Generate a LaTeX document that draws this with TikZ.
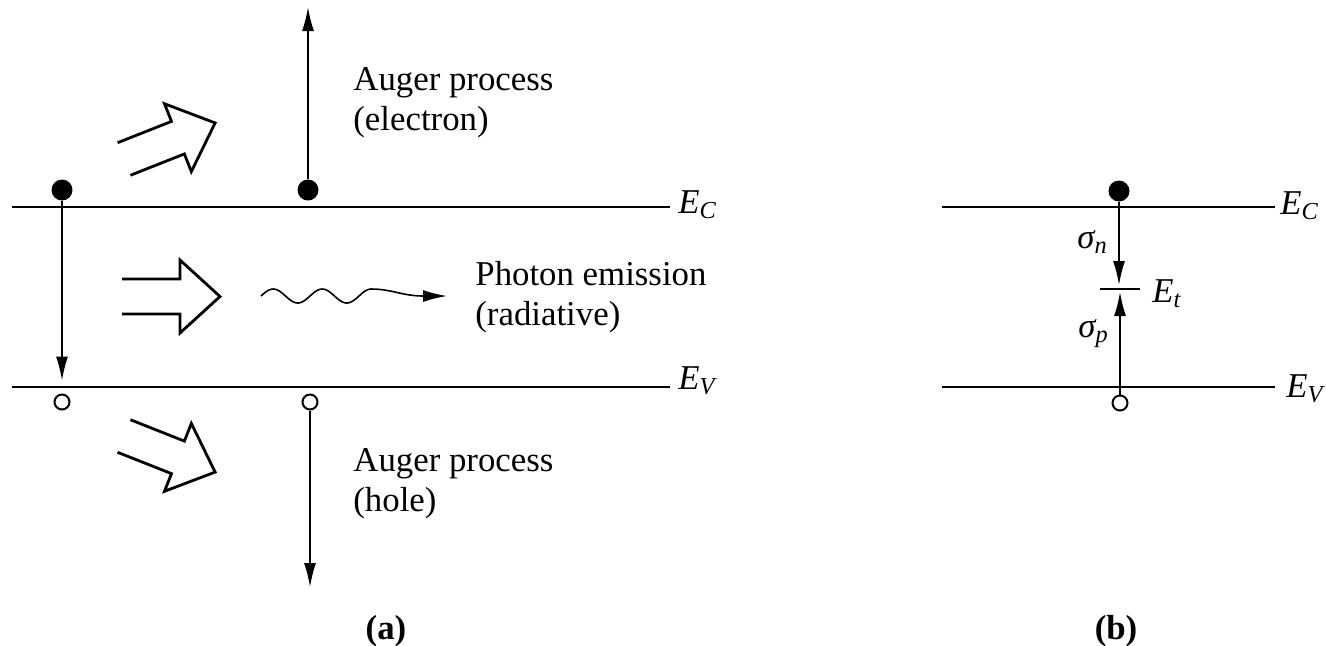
\documentclass[tikz,border=0pt]{standalone}
\usepackage{fontspec}
\setmainfont{Liberation Serif}
\usetikzlibrary{arrows.meta, positioning}

\tikzset{pics/hollowarr/.style={code={
  \draw[fat] (0,-17.5) -- (58,-17.5) -- (58,-36.5) -- (98,0)
    -- (58,36.5) -- (58,17.5) -- (0,17.5);
}}}

\begin{document}
\begin{tikzpicture}[x=0.5pt, y=-0.5pt,
  >={Latex[length=12pt, width=6pt]},
  band/.style={line width=1.4pt},
  bandthin/.style={line width=1pt},
  trans/.style={->, line width=0.8pt},
  fat/.style={line width=1.4pt},
  electron/.style={circle, fill=black, inner sep=0pt, minimum size=10.5pt},
  hole/.style={circle, draw=black, line width=1pt, fill=white, inner sep=0pt, minimum size=7.5pt},
  lbl/.style={font=\fontsize{17.4}{20}\selectfont, align=left, anchor=north west, inner sep=0pt},
  lvl/.style={font=\fontsize{17.4}{20}\selectfont\itshape, anchor=base west, inner sep=0pt},
  panellbl/.style={font=\fontsize{17.4}{20}\selectfont\bfseries, anchor=base, inner sep=0pt}]

\useasboundingbox (0,0) rectangle (1326,645);

% --- (a) band diagram ---
\draw[band] (12,207) -- (670,207);
\draw[band] (12,387) -- (670,387);
\node[lvl] (ECa) at (678,213) {E\textsubscript{C}};
\node[lvl] (EVa) at (678,389) {E\textsubscript{V}};

% carriers
\node[electron] (eL) at (62,190) {};
\node[electron] (eM) at (308,190) {};
\node[hole] (hL) at (62,402) {};
\node[hole] (hM) at (310,402) {};

% band-to-band transition
\draw[trans, shorten >=6.5pt] (eL.south) -- (hL.north);

% Auger processes
\coordinate (topM) at (308,7);
\coordinate (botM) at (310,587);
\draw[trans] (eM.north) -- (topM);
\draw[trans] (hM.south) -- (botM);

% hollow arrows
\pic[rotate=21.6] at (124,159) {hollowarr};
\pic at (122,296.5) {hollowarr};
\pic[rotate=-21.6] at (124,436) {hollowarr};

% photon (wavelength 49)
\draw[trans] plot[domain=261:371, samples=80, smooth] (\x,{296-7*sin(7.347*(\x-261))})
  .. controls (392,289) and (402,296) .. (447,296);

% labels
\node[lbl] (augerE) at (353,67) {Auger process\\(electron)};
\node[lbl] (photon) at (475,261) {Photon emission\\(radiative)};
\node[lbl] (augerH) at (353,448) {Auger process\\(hole)};
\node[panellbl] (capA) at (386,639) {(a)};

% --- (b) trap level ---
\draw[bandthin] (942,207) -- (1275,207);
\draw[band] (942,387) -- (1275,387);
\node[lvl] (ECb) at (1280,214) {E\textsubscript{C}};
\node[lvl] (EVb) at (1286,397) {E\textsubscript{V}};

\node[electron] (eR) at (1119,191) {};
\node[hole] (hR) at (1120,403) {};
\coordinate (trapN) at (1119,285);
\coordinate (trapP) at (1120,292);
\draw[bandthin] (1100,289) -- (1140,289);
\draw[trans] (eR.south) -- (trapN);
\draw[trans] (hR.north) -- (trapP);

\node[lvl] (Et) at (1152,302) {E\textsubscript{t}};
\node[lvl] (sigN) at (1077,248) {σ\textsubscript{n}};
\node[lvl] (sigP) at (1078,337) {σ\textsubscript{p}};
\node[panellbl] (capB) at (1116,639) {(b)};

\end{tikzpicture}
\end{document}
